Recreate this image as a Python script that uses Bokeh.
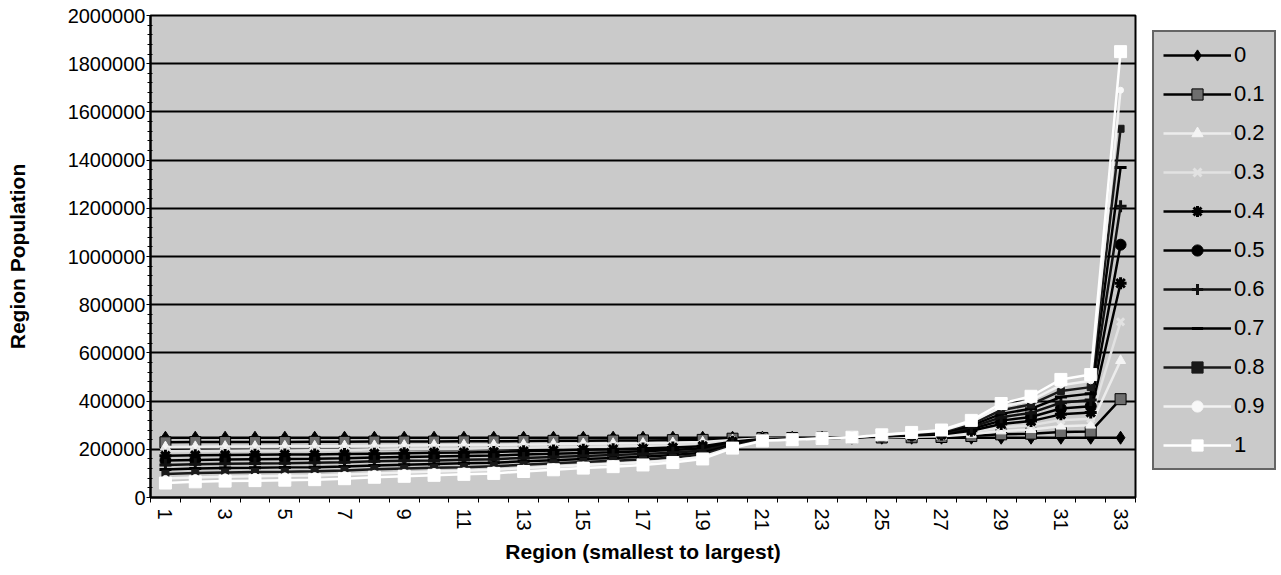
from bokeh.plotting import figure
from bokeh.layouts import row
from bokeh.models import (ColumnDataSource, Legend, LegendItem, FixedTicker,
                          BasicTickFormatter, Range1d)
from bokeh.embed import file_html
from bokeh.resources import INLINE

# Regions ordered from smallest to largest
regions = list(range(1, 34))

# Region population for each weighting value (0 ... 1)
pop_0_0 = [248000] * 33
pop_0_1 = [229000, 230000, 230000, 230000, 230000, 231000, 231000, 232000, 232000, 232000,
           233000, 233000, 234000, 235000, 235000, 236000, 237000, 238000, 239000, 244000,
           247000, 247000, 248000, 248000, 249000, 250000, 251000, 255000, 262000, 265000,
           272000, 274000, 408000]
pop_0_2 = [210000, 211000, 212000, 212000, 213000, 213000, 214000, 215000, 216000, 217000,
           218000, 218000, 220000, 221000, 223000, 224000, 225000, 227000, 230000, 239000,
           245000, 246000, 247000, 248000, 250000, 252000, 254000, 262000, 276000, 282000,
           296000, 300000, 568000]
pop_0_3 = [192000, 193000, 194000, 195000, 195000, 196000, 197000, 199000, 200000, 201000,
           202000, 204000, 206000, 208000, 210000, 212000, 214000, 217000, 222000, 235000,
           244000, 246000, 247000, 249000, 252000, 255000, 258000, 270000, 291000, 300000,
           321000, 327000, 729000]
pop_0_4 = [173000, 175000, 176000, 177000, 178000, 178000, 180000, 182000, 184000, 186000,
           187000, 189000, 192000, 195000, 198000, 200000, 203000, 207000, 213000, 231000,
           243000, 245000, 247000, 249000, 253000, 257000, 261000, 277000, 305000, 317000,
           345000, 353000, 889000]
pop_0_5 = [154000, 156000, 158000, 159000, 160000, 161000, 163000, 166000, 168000, 170000,
           172000, 174000, 178000, 182000, 185000, 188000, 192000, 197000, 204000, 227000,
           242000, 244000, 246000, 249000, 254000, 259000, 264000, 284000, 319000, 334000,
           369000, 379000, 1049000]
pop_0_6 = [135000, 138000, 140000, 141000, 142000, 144000, 146000, 150000, 152000, 154000,
           157000, 159000, 164000, 168000, 172000, 176000, 180000, 186000, 195000, 222000,
           240000, 243000, 246000, 249000, 255000, 261000, 267000, 291000, 333000, 351000,
           393000, 405000, 1209000]
pop_0_7 = [116000, 120000, 122000, 123000, 125000, 126000, 129000, 133000, 136000, 139000,
           142000, 144000, 150000, 155000, 160000, 164000, 169000, 176000, 186000, 218000,
           239000, 242000, 246000, 249000, 256000, 263000, 270000, 298000, 347000, 368000,
           417000, 431000, 1369000]
pop_0_8 = [98000, 102000, 104000, 106000, 107000, 109000, 112000, 117000, 120000, 123000,
           126000, 130000, 136000, 142000, 147000, 152000, 158000, 166000, 178000, 214000,
           238000, 242000, 246000, 250000, 258000, 266000, 274000, 306000, 362000, 386000,
           442000, 458000, 1530000]
pop_0_9 = [79000, 83000, 86000, 88000, 90000, 91000, 95000, 100000, 104000, 108000,
           111000, 115000, 122000, 128000, 135000, 140000, 146000, 155000, 169000, 209000,
           236000, 241000, 245000, 250000, 259000, 268000, 277000, 313000, 376000, 403000,
           466000, 484000, 1690000]
pop_1_0 = [60000, 65000, 68000, 70000, 72000, 74000, 78000, 84000, 88000, 92000,
           96000, 100000, 108000, 115000, 122000, 128000, 135000, 145000, 160000, 205000,
           235000, 240000, 245000, 250000, 260000, 270000, 280000, 320000, 390000, 420000,
           490000, 510000, 1850000]

series_labels = ["0", "0.1", "0.2", "0.3", "0.4", "0.5", "0.6", "0.7", "0.8", "0.9", "1"]
series_values = [pop_0_0, pop_0_1, pop_0_2, pop_0_3, pop_0_4, pop_0_5,
                 pop_0_6, pop_0_7, pop_0_8, pop_0_9, pop_1_0]

y_tick_values = [0, 200000, 400000, 600000, 800000, 1000000, 1200000,
                 1400000, 1600000, 1800000, 2000000]
x_tick_values = [1, 3, 5, 7, 9, 11, 13, 15, 17, 19, 21, 23, 25, 27, 29, 31, 33]

# Grayscale line / marker styling per series
styles = [
    dict(line="#000000", marker="diamond", size=13, fill="#000000", mline="#000000"),
    dict(line="#000000", marker="square", size=11, fill="#6e6e6e", mline="#000000"),
    dict(line="#ececec", marker="triangle", size=10, fill="#f4f4f4", mline="#f4f4f4"),
    dict(line="#e2e2e2", marker="x", size=10, fill="#e2e2e2", mline="#e2e2e2"),
    dict(line="#000000", marker="asterisk", size=12, fill="#000000", mline="#000000"),
    dict(line="#000000", marker="circle", size=11, fill="#000000", mline="#000000"),
    dict(line="#111111", marker="cross", size=12, fill="#111111", mline="#111111"),
    dict(line="#000000", marker="dash", size=12, fill="#000000", mline="#000000"),
    dict(line="#1a1a1a", marker="square", size=7, fill="#1a1a1a", mline="#1a1a1a"),
    dict(line="#f2f2f2", marker="circle", size=6, fill="#f8f8f8", mline="#f8f8f8"),
    dict(line="#ffffff", marker="square", size=12, fill="#ffffff", mline="#ffffff"),
]

FONT = "Liberation Sans"
PLOT_BG = "#cacaca"
FRAME_W = 985
FRAME_H = 482

p = figure(frame_width=FRAME_W, frame_height=FRAME_H,
           output_backend="svg", toolbar_location=None,
           x_range=Range1d(0.5, 33.5), y_range=Range1d(0, 2000000),
           min_border_left=150, min_border_right=17,
           min_border_top=15, min_border_bottom=78,
           background_fill_color=PLOT_BG, border_fill_color="white")

p.outline_line_color = "black"
p.outline_line_width = 2

# Axes
p.xaxis.ticker = FixedTicker(ticks=x_tick_values,
                             minor_ticks=[r + 0.5 for r in range(0, 34)])
p.xaxis.major_tick_out = 0
p.xaxis.major_tick_in = 0
p.xaxis.minor_tick_out = 5
p.xaxis.minor_tick_in = 0
p.xaxis.minor_tick_line_color = "black"
p.xaxis.major_label_orientation = "vertical"
p.xaxis.axis_label = "Region (smallest to largest)"
p.xaxis.axis_line_color = "black"
p.xaxis.axis_line_width = 2

p.yaxis.ticker = FixedTicker(ticks=y_tick_values,
                             minor_ticks=list(range(0, 2000001, 40000)))
p.yaxis.formatter = BasicTickFormatter(use_scientific=False)
p.yaxis.major_tick_out = 4
p.yaxis.major_tick_in = 0
p.yaxis.minor_tick_out = 3
p.yaxis.minor_tick_in = 2
p.yaxis.minor_tick_line_color = "black"
p.yaxis.axis_label = "Region Population"
p.yaxis.axis_line_color = "black"
p.yaxis.axis_line_width = 2
p.yaxis.major_label_standoff = 1

for ax in (p.xaxis, p.yaxis):
    ax.major_label_text_font = FONT
    ax.major_label_text_font_size = "20px"
    ax.major_label_text_color = "black"
    ax.axis_label_text_font = FONT
    ax.axis_label_text_font_size = "21px"
    ax.axis_label_text_font_style = "bold"
    ax.axis_label_text_color = "black"
    ax.major_tick_line_color = "black"
p.xaxis.axis_label_standoff = 6
p.yaxis.axis_label_standoff = 36
p.xaxis.major_label_standoff = 6

p.xgrid.grid_line_color = None
p.ygrid.grid_line_color = "black"
p.ygrid.grid_line_width = 2


def marker_width(st):
    return 3 if st["marker"] in ("dash", "x", "asterisk", "cross") else 1


# Series
sources = []
for vals, st in zip(series_values, styles):
    src = ColumnDataSource(dict(region=regions, pop=vals))
    sources.append(src)
    p.line("region", "pop", source=src, line_color=st["line"], line_width=2.5)
    p.scatter("region", "pop", source=src, marker=st["marker"], size=st["size"],
              fill_color=st["fill"], line_color=st["mline"], line_width=marker_width(st))

# Legend panel: a narrow companion figure whose renderers share the series
# sources (its ranges keep them out of view) so the legend keys match the lines
LEG_W = 1281 - (150 + FRAME_W + 17)
lp = figure(width=LEG_W, height=575, output_backend="svg", toolbar_location=None,
            x_range=Range1d(-3, -2), y_range=Range1d(-3, -2),
            min_border=0, outline_line_color=None,
            background_fill_color="white", border_fill_color="white")
lp.axis.visible = False
lp.grid.visible = False

items = []
for label, src, st in zip(series_labels, sources, styles):
    ln = lp.line("region", "pop", source=src, line_color=st["line"], line_width=2.5)
    mk = lp.scatter("region", "pop", source=src, marker=st["marker"], size=st["size"],
                    fill_color=st["fill"], line_color=st["mline"], line_width=marker_width(st))
    items.append(LegendItem(label=label, renderers=[ln, mk]))

legend = Legend(items=items, location=(0, 27), margin=0,
                border_line_color="black", border_line_width=2,
                background_fill_color=PLOT_BG, background_fill_alpha=1,
                label_text_font=FONT, label_text_font_size="22px",
                label_text_color="black",
                glyph_width=68, glyph_height=28, label_height=28,
                spacing=11, padding=9, label_standoff=3)
lp.add_layout(legend)

layout = row(p, lp, spacing=0)
open("out.html", "w").write(file_html(layout, INLINE))
